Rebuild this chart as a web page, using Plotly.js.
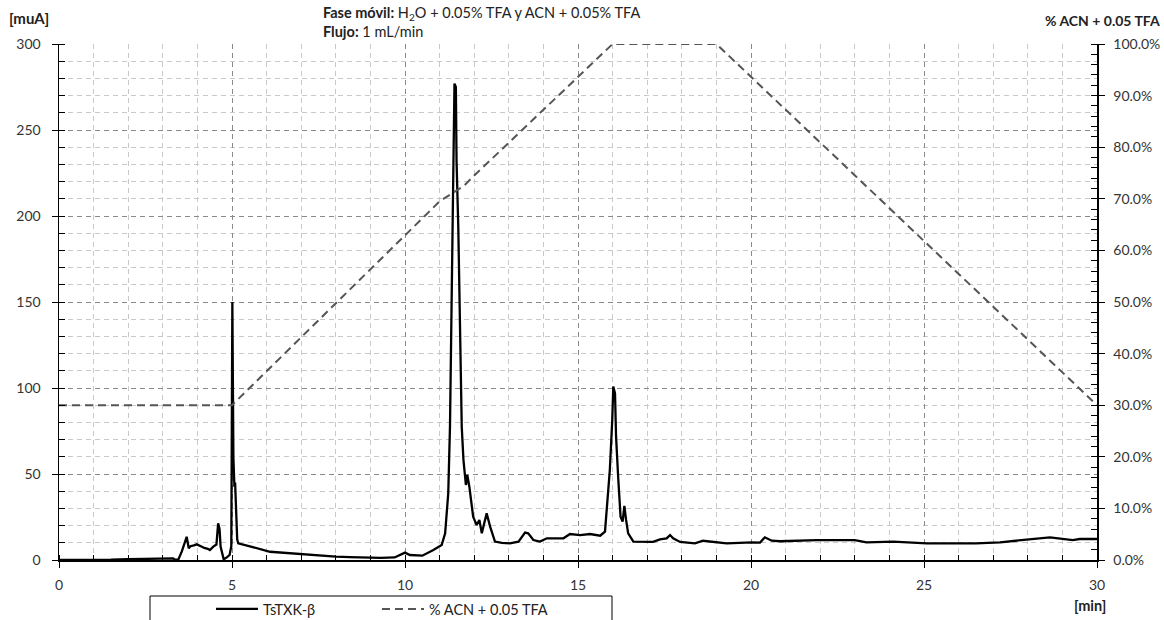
<!DOCTYPE html>
<html>
<head>
<meta charset="utf-8">
<script src="https://cdn.plot.ly/plotly-3.0.1.min.js"></script>
<style>
html,body{margin:0;padding:0;background:#fff;}
#chart{width:1164px;height:620px;}
</style>
</head>
<body>
<div id="chart"></div>
<script>
// Chromatogram TsTXK-β (time in min, signal in muA)
const timeMin = [0,0.5,1,1.5,2,2.5,3,3.3,3.35,3.45,3.55,3.62,3.69,3.75,3.8,3.9,3.98,4.1,4.2,4.3,4.36,4.46,4.55,4.6,4.64,4.67,4.72,4.76,4.85,4.93,4.98,5.01,5.04,5.07,5.09,5.12,5.15,5.18,5.3,5.6,6.1,6.6,7,7.5,8,8.4,8.8,9.3,9.7,10,10.14,10.5,10.82,11.06,11.16,11.25,11.3,11.35,11.4,11.43,11.47,11.49,11.54,11.59,11.64,11.69,11.76,11.8,11.86,11.97,12.07,12.15,12.22,12.36,12.46,12.6,12.8,13.03,13.28,13.47,13.56,13.71,13.9,14.1,14.58,14.77,15.06,15.35,15.64,15.78,15.83,15.92,15.99,16.02,16.07,16.1,16.16,16.23,16.29,16.34,16.39,16.45,16.6,16.98,17.17,17.37,17.56,17.66,17.75,17.95,18.38,18.61,19.3,20.02,20.26,20.4,20.6,20.84,21.9,23.0,23.34,24.11,25.08,25.94,26.5,27.2,27.68,28.06,28.64,29.3,29.5,30];
const signalMuA = [0,0,0,0.2,0.5,0.6,0.7,0.9,0.2,0.3,5,9,13.5,6.8,8,8.5,9.1,8,7,6.5,5.8,7.8,9,21.3,18,7.8,3,0.4,1.5,2.9,8,150,60,42.6,45,27,12,9.7,9,7.5,4.8,4,3.5,2.8,2,1.7,1.4,1.2,1.5,4.3,2.9,2.5,5.8,8.7,15.5,38.8,77.5,155,232.6,277,275,232,193.8,135.6,77.5,58.1,43.6,49.4,42.6,25.2,20.3,23.3,15.5,27.1,19.4,10.7,10,9.7,10.7,15.9,15.5,11.6,10.7,12.6,12.6,15.1,14.5,15.1,14.1,16.5,29.1,52.3,81.4,100.8,96.9,71.7,48.4,25.2,22.3,31.4,23.3,15.5,10.7,10.7,10.5,12,12.6,14.5,12.6,10.5,9.7,11.2,9.7,10.3,10.1,13.2,11.2,10.9,11.6,11.6,10.3,10.7,9.7,9.7,9.7,10.3,11.2,12,13.2,11.6,12.2,12.2];

// Gradient % ACN + 0.05 TFA
const gradTime = [0,5,11,11.7,12,16,19,30];
const gradPct = [30,30,69.5,72.5,74.5,100,100,30];

const seriesNames = ['TsTXK-β','% ACN + 0.05 TFA'];
const leftTicks = [0,50,100,150,200,250,300];
const rightTicks = [0,10,20,30,40,50,60,70,80,90,100];
const rightTickText = rightTicks.map(v => v.toFixed(1) + '%');
const xTicks = [0,5,10,15,20,25,30];

const FONT = 'Lato, "Open Sans", sans-serif';
const W = 1164, H = 620, L = 59, R = 1097, T = 44, B = 560;
const px = v => (v - L) / (R - L);
const py = v => (B - v) / (B - T);

const traces = [
  {x: timeMin, y: signalMuA, name: seriesNames[0], type: 'scatter', mode: 'lines',
   line: {color: '#000', width: 2.3}, xaxis: 'x', yaxis: 'y', legend: 'legend'},
  {x: gradTime, y: gradPct, name: seriesNames[1], type: 'scatter', mode: 'lines',
   line: {color: '#555', width: 2, dash: '8px,5px'}, xaxis: 'x', yaxis: 'y2', legend: 'legend2'}
];

const gridMajor = '#8a8a8a', gridMinor = '#c9c9c9', gdash = '5px,4px';
const tickFont = {family: FONT, size: 14, color: '#333'};
const legendBase = {orientation: 'h', xanchor: 'left', y: py(593), yanchor: 'top',
  bgcolor: 'rgba(0,0,0,0)', borderwidth: 0, font: {family: FONT, size: 14.5, color: '#222'}, itemwidth: 42};

const layout = {
  width: W, height: H,
  margin: {l: L, r: W - R, t: T, b: H - B, autoexpand: false},
  paper_bgcolor: '#fff', plot_bgcolor: '#fff',
  font: {family: FONT, color: '#222'},
  showlegend: true,
  legend: Object.assign({}, legendBase, {x: px(211)}),
  legend2: Object.assign({}, legendBase, {x: px(377)}),
  xaxis: {range: [0, 30], tickvals: xTicks, ticks: 'outside', ticklen: 6, tickcolor: '#000', tickwidth: 1,
          showline: true, linecolor: '#000', linewidth: 1.5, zeroline: false,
          showgrid: true, gridcolor: gridMajor, griddash: gdash, gridwidth: 1,
          minor: {dtick: 1, ticks: 'inside', ticklen: 5, tickcolor: '#000', showgrid: true, gridcolor: gridMinor, griddash: gdash},
          tickfont: tickFont, ticklabelstandoff: 6},
  xaxis3: {range: [0, 30], overlaying: 'x', anchor: 'y', tickvals: xTicks, ticks: 'inside', ticklen: 6,
           tickcolor: '#000', showticklabels: false, showgrid: false, zeroline: false, showline: false},
  yaxis: {range: [0, 300], tickvals: leftTicks, ticks: 'outside', ticklen: 6, tickcolor: '#000',
          showline: true, linecolor: '#000', linewidth: 1.5, zeroline: false,
          showgrid: true, gridcolor: gridMajor, griddash: gdash,
          minor: {dtick: 10, ticks: 'inside', ticklen: 6, tickcolor: '#000', showgrid: true, gridcolor: gridMinor, griddash: gdash},
          tickfont: tickFont, ticklabelstandoff: 8},
  yaxis3: {range: [0, 300], overlaying: 'y', anchor: 'x', side: 'left', tickvals: leftTicks, ticks: 'inside', ticklen: 6,
           tickcolor: '#000', showticklabels: false, showgrid: false, zeroline: false, showline: false},
  yaxis2: {range: [0, 100], overlaying: 'y', side: 'right', anchor: 'x', tickvals: rightTicks, ticktext: rightTickText,
           ticks: 'outside', ticklen: 6, tickcolor: '#000',
           showline: true, linecolor: '#000', linewidth: 1.5, zeroline: false, showgrid: false,
           minor: {dtick: 2, ticks: 'inside', ticklen: 6, tickcolor: '#000', showgrid: false},
           tickfont: tickFont, ticklabelstandoff: 6},
  yaxis4: {range: [0, 100], overlaying: 'y', side: 'right', anchor: 'x', tickvals: rightTicks, ticks: 'inside', ticklen: 6,
           tickcolor: '#000', showticklabels: false, showgrid: false, zeroline: false, showline: false},
  shapes: [
    {type: 'rect', xref: 'paper', yref: 'paper', x0: px(150), x1: px(612), y0: py(596), y1: py(640),
     line: {color: '#000', width: 1}, fillcolor: 'rgba(0,0,0,0)'}
  ],
  annotations: [
    {xref: 'paper', yref: 'paper', x: px(7), y: py(18), xanchor: 'left', yanchor: 'middle', showarrow: false,
     text: '<b>[muA]</b>', font: {family: FONT, size: 15, color: '#222'}},
    {xref: 'paper', yref: 'paper', x: px(1162), y: py(21), xanchor: 'right', yanchor: 'middle', showarrow: false,
     text: '<b>% ACN + 0.05 TFA</b>', font: {family: FONT, size: 14, color: '#222'}},
    {xref: 'paper', yref: 'paper', x: px(321), y: py(22), xanchor: 'left', yanchor: 'middle', align: 'left', showarrow: false,
     text: '<b>Fase móvil:</b> H<sub>2</sub>O + 0.05% TFA y ACN + 0.05% TFA<br><b>Flujo:</b> 1 mL/min',
     font: {family: FONT, size: 14.5, color: '#222'}},
    {xref: 'paper', yref: 'paper', x: px(1090), y: py(605), xanchor: 'center', yanchor: 'middle', showarrow: false,
     text: '<b>[min]</b>', font: {family: FONT, size: 14.5, color: '#222'}}
  ]
};

Plotly.newPlot('chart', traces, layout, {displayModeBar: false, staticPlot: true});
</script>
</body>
</html>
